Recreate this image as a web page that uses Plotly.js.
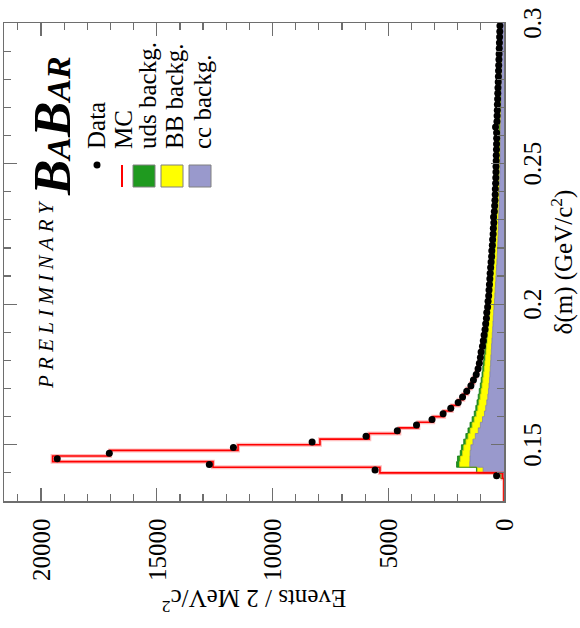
<!DOCTYPE html>
<html>
<head>
<meta charset="utf-8">
<script src="https://cdn.plot.ly/plotly-3.0.1.min.js"></script>
<style>
  html, body { margin: 0; padding: 0; background: #fff; overflow: hidden; width: 580px; height: 628px; }
  /* the figure is laid out landscape and turned a quarter turn anticlockwise */
  #turn { position: absolute; left: 0; top: 0; width: 628px; height: 580px;
          transform-origin: 0 0; transform: translateY(628px) rotate(-90deg); }
  #chart { width: 628px; height: 580px; }
</style>
</head>
<body>
<div id="turn"><div id="chart"></div></div>
<script>
// delta-m bins (GeV/c^2), 2 MeV wide
const binCentres = [
  0.131,0.133,0.135,0.137,0.139,0.141,0.143,0.145,0.147,0.149,
  0.151,0.153,0.155,0.157,0.159,0.161,0.163,0.165,0.167,0.169,
  0.171,0.173,0.175,0.177,0.179,0.181,0.183,0.185,0.187,0.189,
  0.191,0.193,0.195,0.197,0.199,0.201,0.203,0.205,0.207,0.209,
  0.211,0.213,0.215,0.217,0.219,0.221,0.223,0.225,0.227,0.229,
  0.231,0.233,0.235,0.237,0.239,0.241,0.243,0.245,0.247,0.249,
  0.251,0.253,0.255,0.257,0.259,0.261,0.263,0.265,0.267,0.269,
  0.271,0.273,0.275,0.277,0.279,0.281,0.283,0.285,0.287,0.289,
  0.291,0.293,0.295,0.297,0.299
];
const binWidth = 0.002;

const dataCounts = [
  null,null,null,null,320,5570,12730,19300,17050,11690,
  8290,5960,4610,3780,3110,2630,2300,1980,1790,1610,
  1430,1320,1200,1120,1065,1020,990,930,895,860,
  820,792,760,745,708,690,662,648,630,612,
  598,578,560,535,528,505,492,470,462,440,
  452,418,405,392,380,375,362,356,348,346,
  338,335,326,322,318,320,365,305,298,290,
  286,276,270,262,250,243,236,228,220,212,
  205,198,190,182,176
];

const mcCounts = [
  0,0,0,0,60,5360,12570,19500,17020,11490,
  7950,5820,4520,3700,3060,2590,2260,1960,1760,1590,
  1430,1310,1200,1125,1060,1015,975,935,895,858,
  822,790,760,735,708,685,662,642,624,607,
  590,574,558,542,527,512,497,482,468,455,
  442,430,418,406,395,385,375,366,357,349,
  341,334,327,320,314,307,301,295,289,283,
  277,270,263,256,249,242,235,228,221,214,
  207,200,193,186,180
];

const ccBackg = [
  0,0,0,0,100,900,1480,1470,1460,1430,
  1340,1240,1110,1020,930,845,790,745,700,672,
  648,628,610,594,578,566,548,536,520,506,
  490,476,462,446,432,412,396,380,364,350,
  336,322,306,292,280,270,260,251,243,235,
  228,221,214,208,202,196,191,186,181,176,
  172,168,164,160,156,152,149,146,142,139,
  136,133,130,127,124,121,118,115,112,109,
  106,104,101,98,95
];

const bbBackg = [
  0,0,0,0,30,250,440,420,330,310,
  300,310,350,355,355,350,340,335,330,318,
  300,285,270,258,246,236,226,216,206,196,
  188,180,172,165,158,151,145,139,133,128,
  123,118,113,108,104,100,96,92,88,84,
  80,77,74,71,68,65,62,59,56,54,
  51,49,47,45,43,41,39,37,35,33,
  31,30,28,27,25,24,22,21,20,19,
  18,17,16,15,14
];

const udsBackg = [
  0,0,0,0,10,40,130,120,100,100,
  100,98,96,94,92,90,88,86,84,80,
  76,72,68,65,62,59,56,54,52,50,
  48,46,44,42,40,39,38,36,35,34,
  33,32,31,30,29,28,27,27,26,25,
  24,24,23,22,22,21,20,20,19,19,
  18,18,17,17,16,16,15,15,15,14,
  14,13,13,13,12,12,12,11,11,11,
  10,10,10,10,10
];

const xTickVals = [0.15, 0.2, 0.25, 0.3];
const xTickText = ['0.15', '0.2', '0.25', '0.3'];
const yTickVals = [0, 5000, 10000, 15000, 20000];
const yTickText = ['0', '5000', '10000', '15000', '20000'];

const legendLabels = ['Data', 'MC', 'uds backg.', 'BB backg.', 'cc backg.'];

const SERIF = 'Liberation Serif, Times New Roman, serif';
const FRAME = '#6e6e6e';

// histogram outline: one point per left bin edge plus the closing edge
function steps(counts) {
  const xs = [], ys = [];
  for (let i = 0; i < binCentres.length; i++) {
    xs.push(binCentres[i] - binWidth / 2);
    ys.push(counts[i]);
  }
  xs.push(binCentres[binCentres.length - 1] + binWidth / 2);
  ys.push(counts[counts.length - 1]);
  return { x: xs, y: ys };
}

// stacked backgrounds: cc at the bottom, then BB, then uds
const ccTop = ccBackg.slice();
const bbTop = ccBackg.map((v, i) => v + bbBackg[i]);
const udsTop = bbTop.map((v, i) => v + udsBackg[i]);

const sCc = steps(ccTop), sBb = steps(bbTop), sUds = steps(udsTop), sMc = steps(mcCounts);

const traces = [
  { x: sCc.x, y: sCc.y, mode: 'lines', line: { shape: 'hv', color: '#7a7aa8', width: 0.8 },
    fill: 'tozeroy', fillcolor: '#9999cc', hoverinfo: 'skip' },
  { x: sBb.x, y: sBb.y, mode: 'lines', line: { shape: 'hv', color: '#d6d600', width: 0.8 },
    fill: 'tonexty', fillcolor: '#ffff00', hoverinfo: 'skip' },
  { x: sUds.x, y: sUds.y, mode: 'lines', line: { shape: 'hv', color: '#167a16', width: 0.8 },
    fill: 'tonexty', fillcolor: '#1f9a1f', hoverinfo: 'skip' },
  { x: sMc.x, y: sMc.y, mode: 'lines', line: { shape: 'hv', color: 'rgba(255,70,70,0.35)', width: 4 },
    hoverinfo: 'skip' },
  { x: sMc.x, y: sMc.y, mode: 'lines', line: { shape: 'hv', color: '#ff0000', width: 1.6 } },
  { x: binCentres, y: dataCounts, mode: 'markers', marker: { color: '#000', size: 7 } }
];

// plot-area geometry in layout pixels, for the hand-placed key
const PL = 127, PT = 4, PW = 478, PH = 500;
const px = v => (v - PL) / PW;
const py = v => (PT + PH - v) / PH;

const keySwatch = [null, null, '#1f9a1f', '#ffff00', '#9999cc'];
const keyRowY = [96.5, 123.5, 147, 174.5, 202.5];
const keySquareY = [null, null, 133, 161, 189];

const shapes = [
  { type: 'circle', xref: 'paper', yref: 'paper', x0: px(459.5), x1: px(466.5), y0: py(100.5), y1: py(93.5),
    fillcolor: '#000', line: { width: 0 } },
  { type: 'line', xref: 'paper', yref: 'paper', x0: px(441), x1: px(463), y0: py(122), y1: py(122),
    line: { color: '#ff0000', width: 2 } }
];
for (let i = 2; i < 5; i++) {
  shapes.push({ type: 'rect', xref: 'paper', yref: 'paper',
    x0: px(441), x1: px(463), y0: py(keySquareY[i] + 22), y1: py(keySquareY[i]),
    fillcolor: keySwatch[i], line: { color: '#808080', width: 1 } });
}

const annotations = legendLabels.map((t, i) => ({
  text: t, xref: 'paper', yref: 'paper', x: px(477), y: py(keyRowY[i]),
  xanchor: 'left', yanchor: 'middle', showarrow: false,
  font: { family: SERIF, size: 25, color: '#000' }
}));
annotations.push({
  text: '<i>P\u00a0R\u00a0E\u00a0L\u00a0I\u00a0M\u00a0I\u00a0N\u00a0A\u00a0R\u00a0Y</i>',
  xref: 'paper', yref: 'paper', x: px(333), y: py(46), xanchor: 'center', yanchor: 'middle',
  showarrow: false, font: { family: SERIF, size: 21, color: '#000' }
});
annotations.push({
  text: '<b><i>B<span style="font-size:34px">A</span>B<span style="font-size:34px">AR</span></i></b>',
  xref: 'paper', yref: 'paper', x: px(502), y: py(52), xanchor: 'center', yanchor: 'middle',
  showarrow: false, font: { family: SERIF, size: 53, color: '#000' }
});

const axisCommon = {
  showline: true, linecolor: FRAME, linewidth: 1.5, mirror: 'allticks',
  ticks: 'inside', ticklen: 13, tickwidth: 1.2, tickcolor: FRAME,
  showgrid: false, zeroline: false, automargin: false,
  tickfont: { family: SERIF, size: 25, color: '#000' }
};

const layout = {
  width: 628, height: 580,
  margin: { l: PL, r: 628 - PL - PW, t: PT, b: 580 - PT - PH, pad: 0 },
  paper_bgcolor: '#fff', plot_bgcolor: '#fff',
  showlegend: false,
  font: { family: SERIF, size: 25, color: '#000' },
  xaxis: Object.assign({}, axisCommon, {
    range: [0.13, 0.3], tickmode: 'array', tickvals: xTickVals, ticktext: xTickText,
    ticklabelstandoff: 5,
    minor: { tickmode: 'linear', tick0: 0.13, dtick: 0.01, ticks: 'inside', ticklen: 7,
             tickwidth: 1.2, tickcolor: FRAME, showgrid: false },
    title: { text: '\u03b4(m) (GeV/c<sup>2</sup>)', font: { family: SERIF, size: 25, color: '#000' }, standoff: 9 }
  }),
  yaxis: Object.assign({}, axisCommon, {
    range: [0, 21600], tickmode: 'array', tickvals: yTickVals, ticktext: yTickText,
    ticklabelstandoff: 11,
    minor: { tickmode: 'linear', tick0: 0, dtick: 1000, ticks: 'inside', ticklen: 7,
             tickwidth: 1.2, tickcolor: FRAME, showgrid: false },
    title: { text: 'Events / 2 MeV/c<sup>2</sup>', font: { family: SERIF, size: 25, color: '#000' }, standoff: 1 }
  }),
  shapes: shapes,
  annotations: annotations
};

Plotly.newPlot('chart', traces, layout, { staticPlot: true, displayModeBar: false });
</script>
</body>
</html>
